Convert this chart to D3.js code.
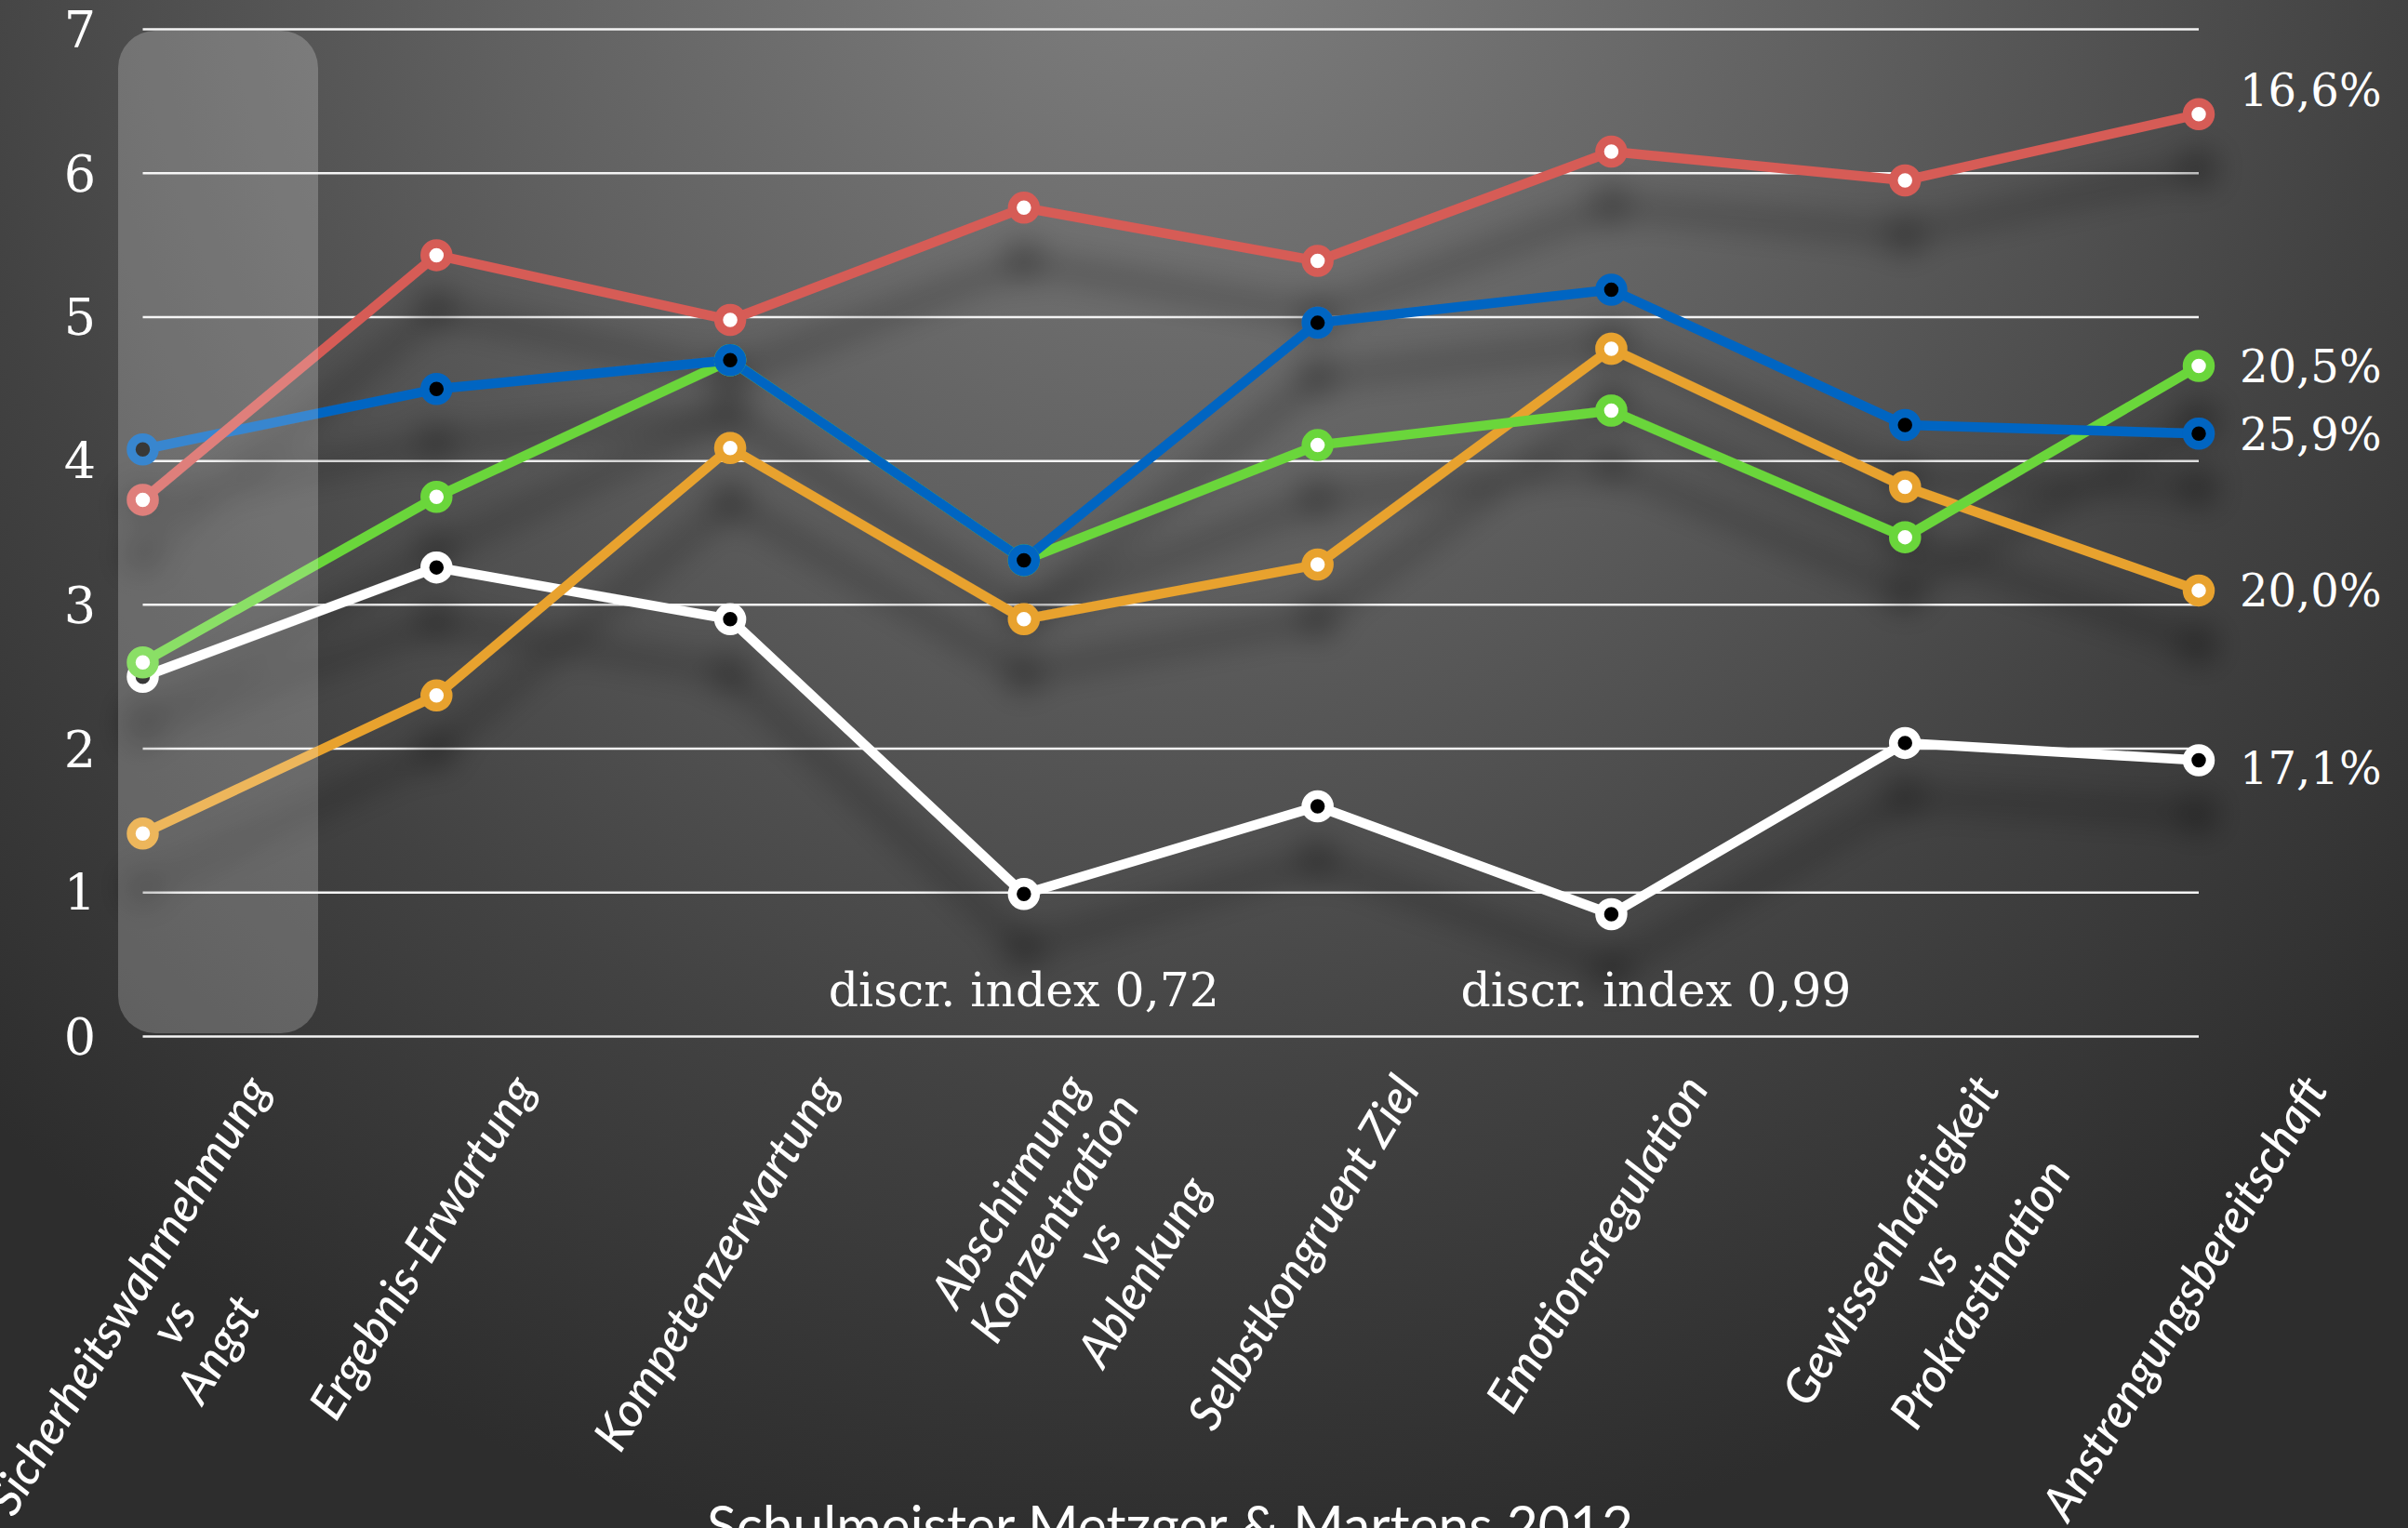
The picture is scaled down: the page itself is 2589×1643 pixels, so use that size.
<!DOCTYPE html>
<html>
<head>
<meta charset="utf-8">
<script src="https://cdn.jsdelivr.net/npm/d3@7"></script>
<style>
  html, body { margin: 0; padding: 0; background: #333; overflow: hidden; }
</style>
</head>
<body>
<div id="chart"></div>
<script>
const categories = [
  "Sicherheitswahrnehmung\nvs\nAngst",
  "Ergebnis-Erwartung",
  "Kompetenzerwartung",
  "Abschirmung\nKonzentration\nvs\nAblenkung",
  "Selbstkongruent Ziel",
  "Emotionsregulation",
  "Gewissenhaftigkeit\nvs\nProkrastination",
  "Anstrengungsbereitschaft"
];

const whiteValues  = [2.50, 3.26, 2.90, 0.99, 1.60, 0.85, 2.04, 1.92];
const blueValues   = [4.08, 4.50, 4.70, 3.31, 4.96, 5.19, 4.25, 4.19];
const greenValues  = [2.60, 3.75, 4.70, 3.31, 4.11, 4.35, 3.47, 4.66];
const orangeValues = [1.41, 2.37, 4.09, 2.90, 3.28, 4.78, 3.82, 3.10];
const redValues    = [3.73, 5.43, 4.98, 5.76, 5.39, 6.15, 5.95, 6.41];

const shareLabels = {red: "16,6%", green: "20,5%", blue: "25,9%", orange: "20,0%", white: "17,1%"};
const yTicks = [0, 1, 2, 3, 4, 5, 6, 7];
const notes = [
  {cat: 3, text: "discr. index 0,72"},
  {cat: 5, text: "discr. index 0,99"}
];
const caption = "Schulmeister Metzger & Martens 2012";

const W = 2589, H = 1643;

// drawing order: first is at the bottom
const series = [
  {key: "white",  values: whiteValues,  color: "#ffffff", dot: "#000000"},
  {key: "orange", values: orangeValues, color: "#e8a22f", dot: "#ffffff"},
  {key: "green",  values: greenValues,  color: "#6bd63a", dot: "#ffffff"},
  {key: "blue",   values: blueValues,   color: "#0065c2", dot: "#000000"},
  {key: "red",    values: redValues,    color: "#d65b57", dot: "#ffffff"}
];

const x = d3.scalePoint().domain(categories).range([153.5, 2364]);
const y = d3.scaleLinear().domain([0, 7]).range([1114.5, 31.5]);

const svg = d3.select("#chart").append("svg")
  .attr("width", W)
  .attr("height", H)
  .style("display", "block");

const defs = svg.append("defs");

const bg = defs.append("radialGradient")
  .attr("id", "bg")
  .attr("gradientUnits", "userSpaceOnUse")
  .attr("cx", 1250).attr("cy", -150).attr("r", 1850);
bg.append("stop").attr("offset", 0).attr("stop-color", "#828282");
bg.append("stop").attr("offset", 0.4).attr("stop-color", "#606060");
bg.append("stop").attr("offset", 0.72).attr("stop-color", "#424242");
bg.append("stop").attr("offset", 1).attr("stop-color", "#2d2d2d");

const shadow = defs.append("filter")
  .attr("id", "shadow")
  .attr("x", "-10%").attr("y", "-10%")
  .attr("width", "120%").attr("height", "130%");
shadow.append("feGaussianBlur").attr("in", "SourceAlpha").attr("stdDeviation", 17).attr("result", "blur");
shadow.append("feOffset").attr("in", "blur").attr("dx", 0).attr("dy", 58).attr("result", "off");
shadow.append("feComponentTransfer").attr("in", "off").attr("result", "soft")
  .append("feFuncA").attr("type", "linear").attr("slope", 0.5);
const merge = shadow.append("feMerge");
merge.append("feMergeNode").attr("in", "soft");
merge.append("feMergeNode").attr("in", "SourceGraphic");

svg.append("rect")
  .attr("width", W).attr("height", H)
  .attr("fill", "url(#bg)");

// grid
svg.append("g").selectAll("line")
  .data(yTicks)
  .join("line")
    .attr("x1", x.range()[0])
    .attr("x2", x.range()[1])
    .attr("y1", d => y(d))
    .attr("y2", d => y(d))
    .attr("stroke", "#f4f4f4")
    .attr("stroke-width", 2.5);

svg.append("g").selectAll("text")
  .data(yTicks)
  .join("text")
    .attr("x", 86)
    .attr("y", d => y(d))
    .attr("dy", "0.36em")
    .attr("text-anchor", "middle")
    .attr("fill", "#fff")
    .attr("font-family", "'DejaVu Serif', serif")
    .attr("font-size", 54)
    .text(d => d);

// series
const line = d3.line()
  .x((d, i) => x(categories[i]))
  .y(d => y(d));

const plot = svg.append("g").attr("filter", "url(#shadow)");

series.forEach(s => {
  plot.append("path")
    .datum(s.values)
    .attr("d", line)
    .attr("fill", "none")
    .attr("stroke", s.color)
    .attr("stroke-width", 10.5)
    .attr("stroke-linejoin", "round");
});

series.forEach(s => {
  plot.append("g").selectAll("circle")
    .data(s.values)
    .join("circle")
      .attr("cx", (d, i) => x(categories[i]))
      .attr("cy", d => y(d))
      .attr("r", 12.5)
      .attr("fill", s.dot)
      .attr("stroke", s.color)
      .attr("stroke-width", 9.5);
});

// highlighted first column
svg.append("rect")
  .attr("x", 127).attr("y", 33)
  .attr("width", 215).attr("height", 1078)
  .attr("rx", 40).attr("ry", 40)
  .attr("fill", "#ffffff")
  .attr("fill-opacity", 0.22);

// share labels at the end of each line
const nudge = {red: -26, white: 8};
series.forEach(s => {
  const last = s.values[s.values.length - 1];
  svg.append("text")
    .attr("x", x(categories[categories.length - 1]) + 44)
    .attr("y", y(last) + (nudge[s.key] || 0))
    .attr("dy", "0.36em")
    .attr("fill", "#fff")
    .attr("font-family", "'DejaVu Serif', serif")
    .attr("font-size", 48)
    .text(shareLabels[s.key]);
});

// discrimination index notes
svg.append("g").selectAll("text")
  .data(notes)
  .join("text")
    .attr("x", (d, i) => x(categories[d.cat]) + (i == 0 ? 0 : 48))
    .attr("y", 1082)
    .attr("text-anchor", "middle")
    .attr("fill", "#fff")
    .attr("font-family", "'DejaVu Serif', serif")
    .attr("font-stretch", "condensed")
    .attr("font-size", 50)
    .attr("textLength", 420)
    .attr("lengthAdjust", "spacingAndGlyphs")
    .text(d => d.text);

// category labels, rotated
const labelFont = 51, lineGap = 56, topY = 1156;
const labels = svg.append("g");
categories.forEach(c => {
  const lines = c.split("\n");
  const g = labels.append("g");
  const t = g.append("text")
    .attr("text-anchor", "middle")
    .attr("fill", "#fff")
    .attr("font-family", "Lato, 'Open Sans', sans-serif")
    .attr("font-style", "italic")
    .attr("font-weight", 500)
    .attr("font-size", labelFont);
  lines.forEach((l, i) => {
    t.append("tspan")
      .attr("x", 0)
      .attr("y", i * lineGap)
      .text(l);
  });
  const len = t.select("tspan").node().getComputedTextLength();
  const cy = topY + (len / 2) * Math.sin(Math.PI / 3) + labelFont * 0.25;
  g.attr("transform", `translate(${x(c)},${cy}) rotate(-59)`);
});

svg.append("text")
  .attr("x", 1258)
  .attr("y", 1662)
  .attr("text-anchor", "middle")
  .attr("fill", "#fff")
  .attr("font-family", "Lato, sans-serif")
  .attr("font-size", 60)
  .attr("textLength", 996)
  .attr("lengthAdjust", "spacingAndGlyphs")
  .text(caption);
</script>
</body>
</html>
